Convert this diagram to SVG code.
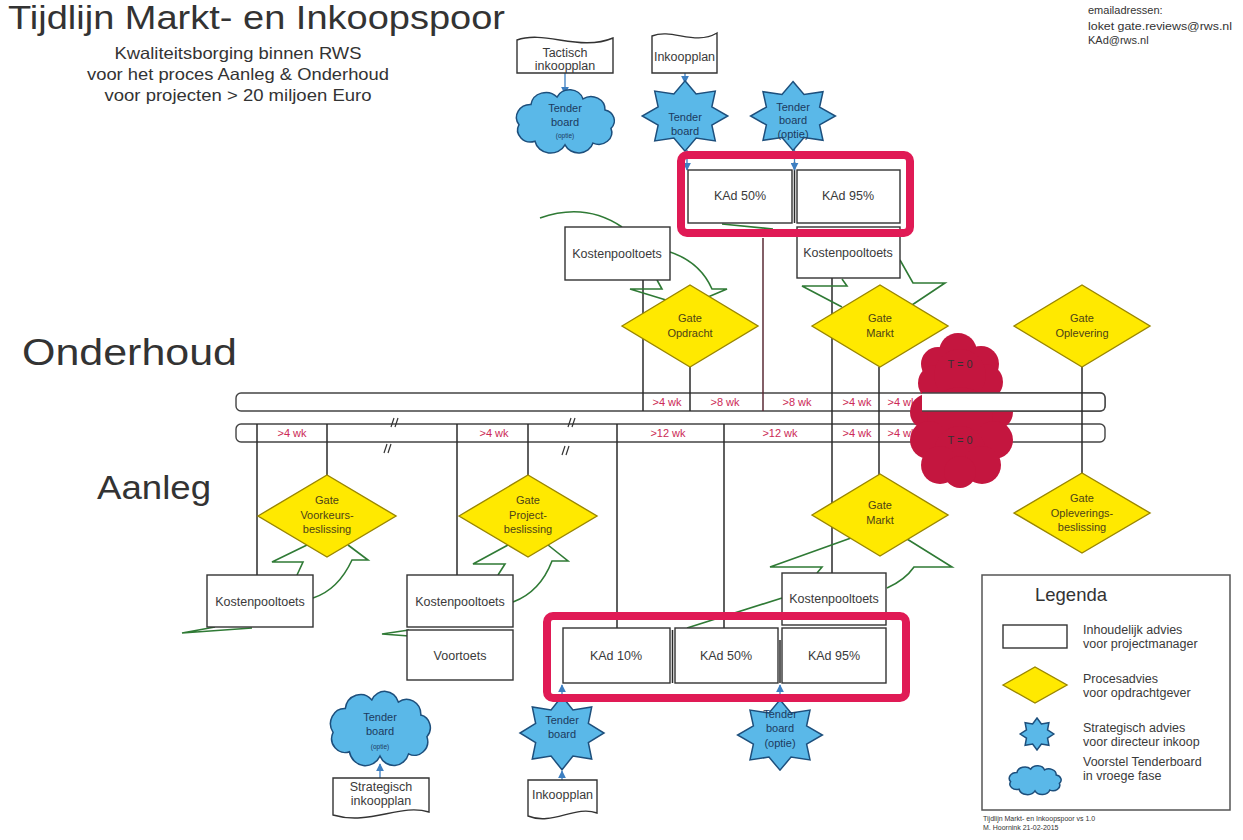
<svg xmlns="http://www.w3.org/2000/svg" width="1243" height="840" viewBox="0 0 1243 840">
<defs>
<style>
text{font-family:"Liberation Sans",Arial,sans-serif;fill:#333}
.box{fill:#fff;stroke:#333;stroke-width:1.4}
.gate{fill:#ffe900;stroke:#9a8600;stroke-width:1.4}
.gt{font-size:11px;fill:#4d4318;text-anchor:middle}
.bt{font-size:12.5px;text-anchor:middle;fill:#3a3a3a}
.blue{fill:#5ab8e8;stroke:#1d4f7c;stroke-width:1.5}
.tb{font-size:11px;text-anchor:middle;fill:#1c3a5e}
.sm{font-size:6.5px;text-anchor:middle;fill:#1c3a5e}
.red{fill:none;stroke:#e01a55;stroke-width:8}
.bar{fill:#fff;stroke:#444;stroke-width:1.4}
.wk{font-size:11px;fill:#cc2a56;text-anchor:middle}
.ln{stroke:#2b2b2b;stroke-width:1.5;fill:none}
.gr{stroke:#2f7a35;stroke-width:1.6;fill:none;stroke-linejoin:miter}
.ar{stroke:#3d7fc1;stroke-width:1.3;fill:none;marker-end:url(#arr)}
.lg{font-size:12.5px;fill:#3a3a3a}
.doc{fill:#fff;stroke:#333;stroke-width:1.4}
</style>
<marker id="arr" viewBox="0 0 10 10" refX="9" refY="5" markerWidth="8" markerHeight="8" markerUnits="userSpaceOnUse" orient="auto"><path d="M0,0 L10,5 L0,10 z" fill="#3d7fc1"/></marker>
<path id="cloud" vector-effect="non-scaling-stroke" d="M-30,22 A13,13 0 0 1 -46,4 A14,14 0 0 1 -34,-18 A15,15 0 0 1 -8,-26 A14,14 0 0 1 18,-24 A14,14 0 0 1 40,-12 A12,12 0 0 1 46,8 A13,13 0 0 1 28,24 A15,15 0 0 1 0,26 A16,16 0 0 1 -30,22 Z"/>
<polygon id="star" vector-effect="non-scaling-stroke" points="0,-40 10.4,-25.1 28.3,-28.3 25.1,-10.4 40,0 25.1,10.4 28.3,28.3 10.4,25.1 0,40 -10.4,25.1 -28.3,28.3 -25.1,10.4 -40,0 -25.1,-10.4 -28.3,-28.3 -10.4,-25.1"/>
</defs>
<rect width="1243" height="840" fill="#fff"/>

<g id="header">
<text x="8" y="29" font-size="33" textLength="497" lengthAdjust="spacingAndGlyphs" fill="#3a3a3a">Tijdlijn Markt- en Inkoopspoor</text>
<text x="238" y="59" font-size="16.5" text-anchor="middle" textLength="247" lengthAdjust="spacingAndGlyphs">Kwaliteitsborging binnen RWS</text>
<text x="238" y="80" font-size="16.5" text-anchor="middle" textLength="302" lengthAdjust="spacingAndGlyphs">voor het proces Aanleg &amp; Onderhoud</text>
<text x="238" y="101" font-size="16.5" text-anchor="middle" textLength="267" lengthAdjust="spacingAndGlyphs">voor projecten &gt; 20 miljoen Euro</text>
<text x="1088" y="14" font-size="11" fill="#555">emailadressen:</text>
<text x="1088" y="30" font-size="11" fill="#555" textLength="144" lengthAdjust="spacingAndGlyphs">loket gate.reviews@rws.nl</text>
<text x="1088" y="44" font-size="11" fill="#555">KAd@rws.nl</text>
<text x="22" y="365" font-size="36" textLength="215" lengthAdjust="spacingAndGlyphs" fill="#3a3a3a">Onderhoud</text>
<text x="97" y="499" font-size="33" textLength="114" lengthAdjust="spacingAndGlyphs" fill="#3a3a3a">Aanleg</text>
</g>

<g id="timeline">
<rect class="bar" x="236" y="424" width="869" height="18" rx="5"/>
<rect class="bar" x="236" y="393" width="869" height="18" rx="5"/>
<text class="wk" x="667" y="406">&gt;4 wk</text>
<text class="wk" x="725" y="406">&gt;8 wk</text>
<text class="wk" x="797" y="406">&gt;8 wk</text>
<text class="wk" x="857" y="406">&gt;4 wk</text>
<text class="wk" x="902" y="406">&gt;4 wk</text>
<text class="wk" x="292" y="437">&gt;4 wk</text>
<text class="wk" x="494" y="437">&gt;4 wk</text>
<text class="wk" x="668" y="437">&gt;12 wk</text>
<text class="wk" x="780" y="437">&gt;12 wk</text>
<text class="wk" x="857" y="437">&gt;4 wk</text>
<text class="wk" x="902" y="437">&gt;4 wk</text>
<path stroke="#333" stroke-width="1.2" fill="none" d="M391,427 L394,418 M395,427 L398,418 M384,453 L387,444 M388,453 L391,444 M568,427 L571,418 M572,427 L575,418 M562,455 L565,446 M566,455 L569,446"/>
</g>

<g id="t0">
<g fill="#c4163f">
<circle cx="958" cy="352" r="19"/><circle cx="938" cy="364" r="17"/><circle cx="981" cy="364" r="18"/>
<circle cx="936" cy="383" r="18"/><circle cx="985" cy="382" r="18"/><circle cx="960" cy="375" r="26"/>
<circle cx="928" cy="412" r="18"/><circle cx="995" cy="412" r="18"/><circle cx="960" cy="420" r="33"/>
<circle cx="929" cy="440" r="19"/><circle cx="994" cy="440" r="19"/><circle cx="960" cy="452" r="26"/>
<circle cx="940" cy="465" r="19"/><circle cx="982" cy="465" r="19"/><circle cx="960" cy="472" r="16"/>
</g>
<path d="M922,393 L1100,393 Q1105,393 1105,398 L1105,406 Q1105,411 1100,411 L922,411" fill="#fff" stroke="#444" stroke-width="1.4"/>
<text x="960" y="368" font-size="11" fill="#fff" text-anchor="middle">T = 0</text>
<text x="960" y="444" font-size="11" fill="#fff" text-anchor="middle">T = 0</text>
</g>

<g id="connectors">
<path class="ln" d="M643,280 V411 M690,367 V411 M832,278 V573 M879,367 V475 M1082,367 V473 M257,424 V575 M327,424 V475 M457,424 V575 M528,424 V475 M617,424 V628 M724,424 V628"/>
<path stroke="#5a2a35" stroke-width="1.5" d="M763,238 V411"/>
<path class="ln" stroke-width="1" d="M794.5,162 V223 M672.5,630 V683 M780,640 V683"/>
<path class="ar" d="M565,73 V94"/>
<path class="ar" d="M685,73 V83"/>
<path class="ar" d="M687,150 V170"/>
<path class="ar" d="M794.5,149 V170"/>
<path class="ar" d="M562,697 V685"/>
<path class="ar" d="M780,700 V685"/>
<path class="ar" d="M562,780 V771"/>
<path class="ar" d="M380,778 V764"/>
<path class="gr" d="M657,280 L662,289 L630,289 L666,300"/>
<path class="gr" d="M670,252 Q700,262 712,289 L727,289 L708,297"/>
<path class="gr" stroke="#7a9a7a" d="M540,218 Q585,202 622,227"/>
<path class="gr" d="M722,224 L773,229"/>
<path class="gr" d="M842,279 L847,286 L802,286 L842,307"/>
<path class="gr" d="M900,260 L913,283 L945,283 L912,305"/>
<path class="gr" d="M307,545 L272,562 L303,562 L297,575"/>
<path class="gr" d="M348,545 L368,560 L352,560 Q338,590 313,598"/>
<path class="gr" d="M215,627 L182,633 L252,628"/>
<path class="gr" d="M508,545 L473,564 L505,564 L498,575"/>
<path class="gr" d="M548,545 L568,561 L552,561 Q540,592 513,602"/>
<path class="gr" d="M409,630 L382,634 L409,636"/>
<path class="gr" d="M851,538 L770,567 L822,567 L817,573"/>
<path class="gr" d="M907,539 L952,567 L914,567 Q905,580 887,588"/>
<path class="gr" d="M782,598 L687,628"/>
</g>

<g id="doc-tactisch-inkoopplan">
<path class="doc" d="M517,40 C545,30 580,52 613,38 L613,73 L517,73 Z"/>
<text class="bt" x="565" y="57" font-size="12">Tactisch</text>
<text class="bt" x="565" y="70" font-size="12">inkoopplan</text>
</g>
<g id="cloud-tenderboard-top">
<use href="#cloud" class="blue" transform="translate(565,121) scale(1,0.92)"/>
<text class="tb" x="565" y="112">Tender</text>
<text class="tb" x="565" y="126">board</text>
<text class="sm" x="565" y="138">(optie)</text>
</g>
<g id="doc-inkoopplan-top">
<path class="doc" d="M652,36 C672,28 695,46 717,33 L717,73 L652,73 Z"/>
<text class="bt" x="684.5" y="61" font-size="12">Inkoopplan</text>
</g>
<g id="star-tenderboard-top">
<use href="#star" class="blue" transform="translate(685,116) scale(1.07,0.88)"/>
<text class="tb" x="685" y="121">Tender</text>
<text class="tb" x="685" y="135">board</text>
</g>
<g id="star-tenderboard-optie-top">
<use href="#star" class="blue" transform="translate(793,116) scale(1.06,0.86)"/>
<text class="tb" x="793" y="111">Tender</text>
<text class="tb" x="793" y="124">board</text>
<text class="tb" x="793" y="138">(optie)</text>
</g>
<g id="kad50-top"><rect class="box" x="688" y="170" width="104" height="53"/><text class="bt" x="740" y="200">KAd 50%</text></g>
<g id="kad95-top"><rect class="box" x="797" y="170" width="103" height="53"/><text class="bt" x="848" y="200">KAd 95%</text></g>
<g id="kpt-top-left"><rect class="box" x="565" y="227" width="105" height="53"/><text class="bt" x="617" y="258">Kostenpooltoets</text></g>
<g id="kpt-top-right"><rect class="box" x="797" y="227" width="103" height="51"/><text class="bt" x="848" y="257">Kostenpooltoets</text></g>
<g id="gate-opdracht"><polygon class="gate" points="622,326 690,285 758,326 690,367"/><text class="gt" x="690" y="322">Gate</text><text class="gt" x="690" y="337">Opdracht</text></g>
<g id="gate-markt-top"><polygon class="gate" points="812,326 880,285 948,326 880,367"/><text class="gt" x="880" y="322">Gate</text><text class="gt" x="880" y="337">Markt</text></g>
<g id="gate-oplevering"><polygon class="gate" points="1014,326 1082,285 1150,326 1082,367"/><text class="gt" x="1082" y="322">Gate</text><text class="gt" x="1082" y="337">Oplevering</text></g>

<g id="gate-voorkeursbeslissing"><polygon class="gate" points="258,516 327,475 396,516 327,557"/><text class="gt" x="327" y="504">Gate</text><text class="gt" x="327" y="519">Voorkeurs-</text><text class="gt" x="327" y="533">beslissing</text></g>
<g id="gate-projectbeslissing"><polygon class="gate" points="459,516 528,475 597,516 528,557"/><text class="gt" x="528" y="504">Gate</text><text class="gt" x="528" y="519">Project-</text><text class="gt" x="528" y="533">beslissing</text></g>
<g id="gate-markt-low"><polygon class="gate" points="812,515 880,474 948,515 880,556"/><text class="gt" x="880" y="509">Gate</text><text class="gt" x="880" y="524">Markt</text></g>
<g id="gate-opleveringsbeslissing"><polygon class="gate" points="1014,513 1082,473 1150,513 1082,553"/><text class="gt" x="1082" y="502">Gate</text><text class="gt" x="1082" y="517">Opleverings-</text><text class="gt" x="1082" y="531">beslissing</text></g>

<g id="kpt-1"><rect class="box" x="207" y="575" width="106" height="52"/><text class="bt" x="260" y="606">Kostenpooltoets</text></g>
<g id="kpt-2"><rect class="box" x="407" y="575" width="106" height="52"/><text class="bt" x="460" y="606">Kostenpooltoets</text></g>
<g id="voortoets"><rect class="box" x="407" y="630" width="106" height="50"/><text class="bt" x="460" y="660">Voortoets</text></g>
<g id="kpt-3"><rect class="box" x="782" y="573" width="104" height="52"/><text class="bt" x="834" y="603">Kostenpooltoets</text></g>
<g id="kad10-low"><rect class="box" x="563" y="628" width="107" height="55"/><text class="bt" x="616" y="660">KAd 10%</text></g>
<g id="kad50-low"><rect class="box" x="675" y="628" width="103" height="55"/><text class="bt" x="726" y="660">KAd 50%</text></g>
<g id="kad95-low"><rect class="box" x="782" y="628" width="104" height="55"/><text class="bt" x="834" y="660">KAd 95%</text></g>

<g id="star-tenderboard-low">
<use href="#star" class="blue" transform="translate(562,733) scale(1.05,0.92)"/>
<text class="tb" x="562" y="724">Tender</text>
<text class="tb" x="562" y="738">board</text>
</g>
<g id="star-tenderboard-optie-low">
<use href="#star" class="blue" transform="translate(780,735) scale(1.06,0.88)"/>
<text class="tb" x="780" y="718">Tender</text>
<text class="tb" x="780" y="732">board</text>
<text class="tb" x="780" y="747">(optie)</text>
</g>
<g id="doc-inkoopplan-low">
<path class="doc" d="M528,780 L597,780 L597,813 C575,805 552,826 528,816 Z"/>
<text class="bt" x="562.5" y="799">Inkoopplan</text>
</g>
<g id="cloud-tenderboard-low">
<use href="#cloud" class="blue" transform="translate(380,728) scale(1.02,1.08)"/>
<text class="tb" x="380" y="721">Tender</text>
<text class="tb" x="380" y="735">board</text>
<text class="sm" x="380" y="749">(optie)</text>
</g>
<g id="doc-strategisch-inkoopplan">
<path class="doc" d="M333,778 L429,778 L429,812 C400,803 370,826 333,815 Z"/>
<text class="bt" x="381" y="791" font-size="12">Strategisch</text>
<text class="bt" x="381" y="805" font-size="12">inkoopplan</text>
</g>

<g id="kad-frames">
<rect class="red" x="681" y="155" width="229" height="78" rx="6"/>
<rect class="red" x="547" y="616" width="359" height="82" rx="6"/>
</g>

<g id="legend">
<rect x="982" y="575" width="248" height="235" fill="#fff" stroke="#555" stroke-width="1.5"/>
<text x="1035" y="601" font-size="18.5" fill="#3a3a3a">Legenda</text>
<rect class="box" x="1003" y="625" width="64" height="23"/>
<text class="lg" x="1083" y="634">Inhoudelijk advies</text>
<text class="lg" x="1083" y="648">voor projectmanager</text>
<polygon class="gate" points="1003,685 1035,667 1067,685 1035,703"/>
<text class="lg" x="1083" y="683">Procesadvies</text>
<text class="lg" x="1083" y="697">voor opdrachtgever</text>
<use href="#star" class="blue" transform="translate(1037,734) scale(0.42,0.4)"/>
<text class="lg" x="1083" y="732">Strategisch advies</text>
<text class="lg" x="1083" y="746">voor directeur inkoop</text>
<use href="#cloud" class="blue" transform="translate(1035,780) scale(0.53,0.42)"/>
<text class="lg" x="1083" y="766">Voorstel Tenderboard</text>
<text class="lg" x="1083" y="780">in vroege fase</text>
</g>
<g id="footer">
<text x="983" y="821" font-size="7" fill="#555">Tijdlijn Markt- en Inkoopspoor vs 1.0</text>
<text x="983" y="830" font-size="7" fill="#555">M. Hoornink 21-02-2015</text>
</g>
</svg>
